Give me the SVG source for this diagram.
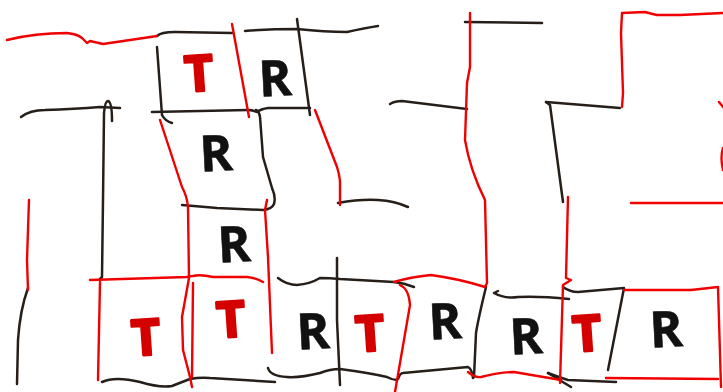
<svg xmlns="http://www.w3.org/2000/svg" width="723" height="392" viewBox="0 0 723 392">
<style>
.k{fill:none;stroke:#261f19;stroke-width:2.5;stroke-linecap:round;stroke-linejoin:round}
.r{fill:none;stroke:#f00000;stroke-width:2.4;stroke-linecap:round;stroke-linejoin:round}
.L{font-family:"Open Sans","Liberation Sans",sans-serif;font-weight:700;font-size:50px;text-anchor:middle}
.R{fill:#111111;stroke:#111111;stroke-width:0.6}
.T{fill:#d40000;stroke:#d40000;stroke-width:2.5;stroke-linejoin:round}
</style>
<rect width="723" height="392" fill="#ffffff"/>
<g id="black-strokes">
<path class="k" d="M157,36 C160,33 165,32 175,32 L232,33"/>
<path class="k" d="M157,47 L162,115 Q165,121 172,123"/>
<path class="k" d="M152,112 L248,110 Q253,110 257,112 Q261,109 268,108 L310,108"/>
<path class="k" d="M245,31 Q270,29 297,29 Q325,32 347,32 Q365,28 378,26"/>
<path class="k" d="M297,19 L310,115"/>
<path class="k" d="M21,117 Q30,110 45,110 Q75,109 100,107 L120,108"/>
<path class="k" d="M100,279 L102,277 L103,200 L104,113 Q105,101 108,101 Q112,102 112,121"/>
<path class="k" d="M28,288 Q20,310 18,340 L17,384"/>
<path class="k" d="M182,205 L217,208 L263,210 Q272,209 274,204 Q276,197 272,188 L263,157 L260,117 Q259,111 256,110"/>
<path class="k" d="M338,203 Q360,199 378,200 Q395,201 408,207"/>
<path class="k" d="M337,258 L337,320 L340,385"/>
<path class="k" d="M278,278 Q287,285 297,285 Q310,284 320,278 Q330,278 340,279 L394,282 Q404,283 414,287"/>
<path class="k" d="M102,382 Q115,376 140,382 Q160,388 172,386 Q182,382 190,379 Q200,377 210,378 L275,382"/>
<path class="k" d="M268,368 Q270,376 287,377 Q300,378 320,373 Q330,369 340,369 Q370,373 387,377 Q395,381 398,379 Q400,373 403,373 L468,367 Q472,369 473,378"/>
<path class="k" d="M486,287 Q478,320 476,333 L474,377"/>
<path class="k" d="M498,291 L494,293 Q505,299 518,297 Q540,296 569,299"/>
<path class="k" d="M563,287 Q570,292 578,292 L624,288 L608,370"/>
<path class="k" d="M548,373 L571,387"/>
<path class="k" d="M548,373 Q558,377 568,380 L616,382"/>
<path class="k" d="M465,22 L542,23"/>
<path class="k" d="M390,104 Q395,101 402,101 L467,109"/>
<path class="k" d="M546,102 L550,105 L563,202"/>
<path class="k" d="M546,102 L620,108"/>
</g>
<g id="red-strokes">
<path class="r" d="M7,40 Q35,33 67,33 Q77,34 82,38 L87,43 L90,41 L103,44 Q130,40 157,36"/>
<path class="r" d="M232,24 L249,117"/>
<path class="r" d="M160,120 L182,187 Q187,196 188,207 L189,278 L182,317 L183,350 L190,377 L192,387"/>
<path class="r" d="M193,283 L192,377"/>
<path class="r" d="M267,200 L265,210 L268,257 L272,353"/>
<path class="r" d="M315,110 L337,167 Q340,177 340,183 L340,205"/>
<path class="r" d="M29,200 L27,260 L28,290"/>
<path class="r" d="M90,280 L187,277 Q190,276 193,276 Q200,274 213,277 L247,277 Q257,278 263,282"/>
<path class="r" d="M100,282 L98,380"/>
<path class="r" d="M470,13 L470,67 L467,83 L465,140 Q470,170 485,200 L487,283 L485,287"/>
<path class="r" d="M394,282 Q410,277 431,275 Q460,279 485,287"/>
<path class="r" d="M400,285 Q409,289 410,305 L395,392"/>
<path class="r" d="M468,372 Q475,378 481,377 Q500,372 514,372 L561,380"/>
<path class="r" d="M568,197 L566,278 L571,280 L563,285 L560,383"/>
<path class="r" d="M624,290 L691,290 L718,287 L721,387"/>
<path class="r" d="M606,378 L718,379"/>
<path class="r" d="M631,203 L723,203"/>
<path class="r" d="M622,107 L623,93 L621,33 L622,13 L645,12 Q652,14 657,15 L680,15 L723,13"/>
<path class="r" d="M719,102 L723,107"/>
<path class="r" d="M723,148 Q720,157 723,170"/>
</g>
<g id="letters">
<text class="L T" x="199" y="91" transform="rotate(-4 199 75)">T</text>
<text class="L R" x="275" y="96" transform="rotate(-3 275 78)">R</text>
<text class="L R" x="216" y="171" transform="rotate(-3 216 153)">R</text>
<text class="L R" x="234" y="262" transform="rotate(-3 234 245)">R</text>
<text class="L T" x="146" y="355" transform="rotate(-4 146 338)">T</text>
<text class="L T" x="231" y="337" transform="rotate(-4 231 320)">T</text>
<text class="L R" x="313" y="349" transform="rotate(-3 313 332)">R</text>
<text class="L T" x="370" y="351" transform="rotate(-4 370 334)">T</text>
<text class="L R" x="445" y="339" transform="rotate(-3 445 320)">R</text>
<text class="L R" x="526" y="354" transform="rotate(-3 526 336)">R</text>
<text class="L T" x="587" y="351" transform="rotate(-4 587 334)">T</text>
<text class="L R" x="666" y="347" transform="rotate(-3 666 330)">R</text>
</g>
</svg>
